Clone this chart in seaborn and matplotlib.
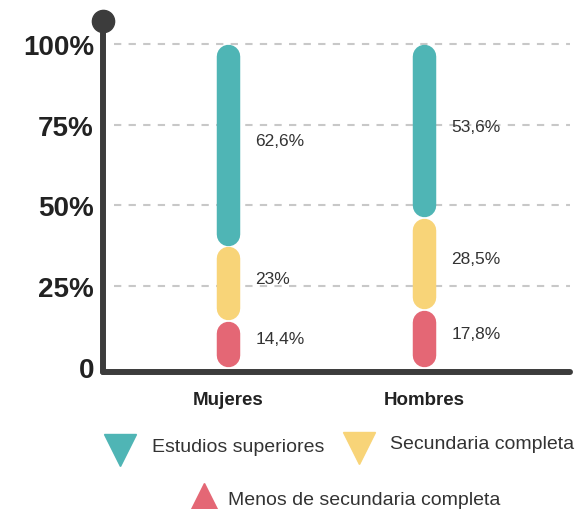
import matplotlib
matplotlib.use('Agg')
import matplotlib.pyplot as plt
from matplotlib.lines import Line2D
import seaborn as sns

# data
groups = ['Mujeres', 'Hombres']
menos = [14.4, 17.8]
secundaria = [23.0, 28.5]
superiores = [62.6, 53.6]
series_names = ['Menos de secundaria completa', 'Secundaria completa', 'Estudios superiores']
colors = ['#e46775', '#f8d478', '#4fb5b5']
y_ticks = [0, 25, 50, 75, 100]
y_ticklabels = ['0', '25%', '50%', '75%', '100%']

sns.set_style('white')
plt.rcParams['font.family'] = ['Liberation Sans', 'DejaVu Sans']

dark = '#3c3c3c'
fig = plt.figure(figsize=(5.79, 5.10), dpi=100)
ax = fig.add_axes([0.1779, 0.2686, 0.8066, 0.6882])
ax.set_xlim(-0.638, 1.745)
ax.set_ylim(-1.55, 107.1)

# dashed guide lines
ax.hlines(y_ticks[1:], -0.58, 1.745, colors='#c8c8c8', linewidth=1.5,
          linestyles=(0, (3.5, 3.5)), zorder=0)

# stacked pill segments
bar_lw = 16.9  # points (~23.5 px)
cap = 3.64     # round cap length in data units
xs = list(range(len(groups)))
bottom = [0.0] * len(groups)
for vals, col in zip([menos, secundaria, superiores], colors):
    lo = [b + 0.1 + cap for b in bottom]
    hi = [b + v - 0.1 - cap for b, v in zip(bottom, vals)]
    ax.vlines(xs, lo, hi, colors=col, linewidth=bar_lw, capstyle='round', zorder=3)
    for x, b, v in zip(xs, bottom, vals):
        txt = f"{v:g}".replace('.', ',') + '%'
        ax.text(x + 0.14, b + v / 2 + 1.5, txt, ha='left', va='center',
                fontsize=12.5, color='#333333')
    bottom = [b + v for b, v in zip(bottom, vals)]

# axes styling
sns.despine(ax=ax)
for side in ['left', 'bottom']:
    ax.spines[side].set_linewidth(4.3)
    ax.spines[side].set_color(dark)
    ax.spines[side].set_capstyle('round')
ax.plot(0, 1, 'o', transform=ax.transAxes, ms=16, color=dark, clip_on=False, zorder=5)

ax.set_yticks(y_ticks)
ax.set_yticklabels(y_ticklabels, fontsize=20, fontweight='bold', color='#222222')
ax.set_xticks(xs)
ax.set_xticklabels(groups, fontsize=13.5, fontweight='bold', color='#222222')
ax.tick_params(axis='y', length=0, pad=6.5)
ax.tick_params(axis='x', length=0, pad=14)
ax.grid(False)

# legend drawn manually: two on first row, one centred below
legend_items = [
    (series_names[2], colors[2], 'v', 119.5, 450.5, 152, 447.5),
    (series_names[1], colors[1], 'v', 359, 449, 390, 445),
    (series_names[0], colors[0], '^', 204, 500, 228, 501),
]
W, H = 579, 510
for name, col, mk, mx, my, tx, ty in legend_items:
    fig.add_artist(Line2D([mx / W], [1 - my / H], marker=mk, markersize=23,
                          color=col, linestyle='none', transform=fig.transFigure))
    fig.text(tx / W, 1 - ty / H, name, ha='left', va='center', fontsize=14,
             color='#333333')

fig.savefig('out.png', dpi=100)
